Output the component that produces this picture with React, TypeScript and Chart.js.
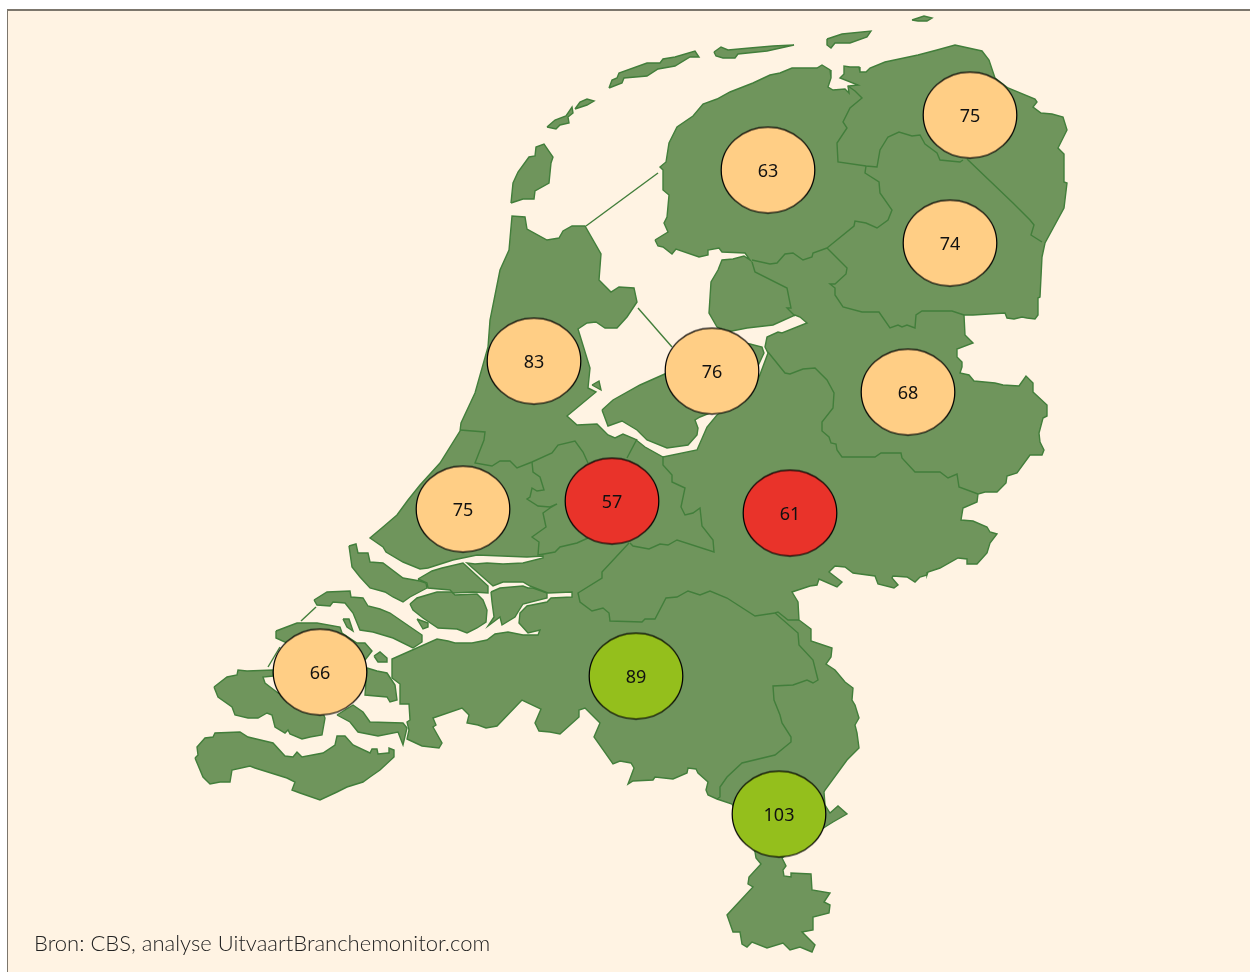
import React, { useEffect, useRef } from "react";
import { Chart, registerables } from "chart.js";

Chart.register(...registerables);

type P = [number, number];

const provinces = ["Groningen", "Friesland", "Drenthe", "Overijssel", "Flevoland", "Noord-Holland", "Zuid-Holland", "Utrecht", "Gelderland", "Noord-Brabant", "Limburg", "Zeeland"];
const values = [75, 63, 74, 68, 76, 83, 75, 57, 61, 89, 103, 66];
const bubbleX = [970, 768, 950, 908, 712, 534, 463, 612, 790, 636, 779, 320];
const bubbleY = [115, 170, 243, 392, 371, 361, 509, 501, 513, 676, 814, 672];
const source = "Bron: CBS, analyse UitvaartBranchemonitor.com";

const mainland: P[] = [
  [655,240],[668,232],[664,223],[667,217],[669,195],[663,190],[663,170],[660,167],[666,162],[669,143],[677,127],[693,116],[703,104],[717,99],[730,92],[753,83],[770,75],[780,73],[792,68],[817,68],[822,65],[830,70],[831,78],[828,87],[833,90],[845,89],[849,93],[848,86],[858,85],[840,78],[844,74],[844,66],[850,67],[859,67],[860,72],[866,72],[870,68],[885,62],[918,55],[937,50],[955,45],[982,51],[989,60],[995,78],[1008,88],[1035,99],[1037,102],[1033,107],[1041,113],[1052,114],[1063,117],[1067,130],[1058,148],[1064,154],[1064,182],[1067,183],[1064,208],[1045,243],[1042,257],[1040,297],[1038,298],[1038,315],[1035,319],[1027,318],[1022,317],[1014,319],[1007,318],[1005,313],[973,315],[964,315],[965,335],[968,338],[973,343],[957,349],[957,357],[962,362],[962,367],[960,373],[969,375],[974,381],[995,383],[1003,385],[1019,386],[1026,376],[1033,383],[1033,392],[1047,405],[1047,416],[1043,418],[1039,433],[1040,442],[1044,450],[1042,455],[1030,455],[1017,473],[1007,476],[1006,483],[997,492],[985,492],[978,494],[977,502],[963,508],[961,520],[973,521],[987,527],[990,532],[997,534],[990,543],[987,553],[977,564],[967,564],[967,559],[958,558],[940,568],[928,572],[927,575],[920,577],[915,582],[907,577],[893,576],[892,578],[898,585],[894,588],[878,584],[875,576],[853,573],[845,567],[835,566],[829,572],[842,582],[837,587],[819,579],[817,585],[810,586],[792,592],[798,602],[799,620],[811,629],[811,641],[832,648],[831,657],[826,664],[835,670],[845,682],[853,688],[852,700],[855,705],[859,718],[855,725],[857,733],[859,748],[847,760],[825,790],[824,792],[825,805],[830,813],[838,806],[847,814],[833,822],[825,827],[782,858],[786,866],[783,870],[784,876],[791,877],[791,873],[811,874],[812,890],[830,893],[824,902],[830,905],[829,913],[813,917],[813,930],[802,932],[815,945],[812,952],[800,947],[790,950],[783,943],[767,948],[752,942],[747,947],[742,944],[740,932],[733,932],[727,915],[753,887],[748,884],[749,877],[761,864],[756,858],[755,852],[732,804],[717,799],[708,795],[706,790],[708,782],[698,773],[696,769],[688,768],[687,773],[673,779],[655,777],[653,780],[633,781],[628,784],[634,768],[631,763],[620,761],[613,764],[594,737],[600,723],[585,708],[579,710],[579,717],[560,734],[550,732],[539,731],[535,723],[541,709],[522,700],[497,726],[486,728],[478,725],[467,723],[469,715],[462,708],[433,718],[436,725],[433,727],[442,743],[439,748],[422,746],[407,739],[409,730],[407,722],[410,720],[409,704],[400,704],[400,684],[392,678],[392,659],[437,639],[448,641],[455,643],[472,643],[487,640],[495,634],[508,632],[513,633],[523,635],[538,635],[540,630],[528,633],[519,623],[520,613],[527,606],[547,602],[551,598],[572,597],[572,592],[548,593],[530,586],[523,582],[503,582],[493,586],[467,563],[475,564],[487,563],[503,564],[523,563],[543,558],[543,556],[527,557],[477,555],[453,560],[428,568],[420,569],[403,562],[386,552],[383,547],[370,538],[383,527],[397,515],[408,500],[420,485],[440,463],[460,431],[461,423],[475,393],[488,347],[490,320],[500,270],[509,250],[512,216],[525,217],[527,229],[547,240],[559,238],[563,231],[572,226],[585,226],[601,254],[599,280],[611,292],[619,287],[634,288],[637,302],[627,317],[617,328],[605,328],[596,322],[587,323],[578,329],[590,368],[588,388],[596,392],[567,416],[577,425],[597,424],[608,435],[615,438],[623,434],[635,439],[645,447],[663,457],[697,450],[707,427],[717,415],[755,388],[768,353],[765,347],[767,337],[778,332],[782,333],[807,323],[800,317],[795,315],[773,325],[747,328],[727,332],[717,327],[709,313],[711,282],[718,270],[722,260],[733,259],[744,256],[750,260],[745,253],[722,252],[719,248],[708,250],[708,255],[699,257],[676,249],[672,254],[663,247],[658,246],[655,240],
];
const texel: P[] = [[511,203],[513,183],[518,172],[529,157],[535,156],[536,147],[544,144],[553,157],[551,163],[549,183],[535,191],[534,199],[523,199],[511,203]];
const vlieland: P[] = [[547,127],[555,120],[566,116],[572,107],[573,113],[568,117],[569,123],[560,125],[556,129],[547,127]];
const vlielandEast: P[] = [[575,109],[580,102],[587,99],[594,101],[587,105],[575,109]];
const terschelling: P[] = [[609,88],[612,80],[617,78],[619,73],[647,63],[660,63],[663,59],[675,57],[695,51],[699,57],[690,57],[675,66],[658,69],[647,76],[624,78],[622,83],[609,88]];
const ameland: P[] = [[714,52],[721,47],[728,50],[750,48],[773,46],[794,45],[767,51],[738,54],[735,58],[723,58],[716,56],[714,52]];
const schiermonnikoog: P[] = [[827,39],[842,34],[871,31],[867,37],[850,43],[835,43],[831,48],[827,45],[827,39]];
const rottum: P[] = [[912,20],[924,16],[932,18],[927,21],[918,21],[912,20]];
const flevoland: P[] = [[602,410],[613,400],[640,385],[667,373],[700,355],[735,342],[750,344],[762,347],[764,353],[757,368],[742,400],[700,417],[695,420],[698,428],[697,435],[688,445],[667,448],[647,440],[637,430],[622,421],[608,426],[602,410]];
const marken: P[] = [[592,385],[599,381],[601,390],[592,385]];
const hoekscheWaard: P[] = [[418,579],[432,571],[442,568],[463,563],[488,586],[488,593],[473,592],[453,593],[450,590],[428,588],[427,583],[418,579]];
const goereeEast: P[] = [[491,592],[500,588],[523,586],[528,588],[533,588],[547,593],[547,598],[523,604],[518,612],[515,617],[502,625],[500,617],[488,626],[494,617],[492,602],[491,592]];
const flakkee: P[] = [[410,604],[417,598],[437,592],[452,592],[455,595],[477,594],[483,600],[487,610],[486,622],[477,628],[467,633],[457,629],[438,628],[423,618],[413,610],[410,604]];
const tinyFlakkee: P[] = [[417,619],[428,623],[428,627],[423,629],[417,619]];
const goeree: P[] = [[349,546],[356,544],[358,553],[368,553],[370,562],[383,563],[403,578],[420,581],[426,583],[427,588],[410,597],[403,602],[393,597],[385,592],[370,588],[360,577],[352,567],[349,546]];
const schouwen: P[] = [[314,600],[327,592],[350,591],[351,597],[363,598],[368,606],[380,609],[390,613],[403,622],[422,635],[422,642],[413,648],[393,638],[373,632],[360,630],[353,613],[345,603],[333,602],[330,606],[317,605],[314,600]];
const tinySchouwen: P[] = [[343,619],[349,619],[353,631],[347,627],[343,619]];
const noordBeveland: P[] = [[276,631],[297,623],[317,623],[340,627],[342,633],[357,643],[365,643],[372,651],[365,660],[320,670],[285,642],[276,638],[276,631]];
const tinyBeveland: P[] = [[374,656],[380,652],[387,658],[387,662],[378,662],[374,656]];
const walcheren: P[] = [[214,687],[227,677],[237,675],[238,670],[247,671],[273,670],[273,676],[263,677],[265,683],[278,693],[323,713],[325,718],[322,735],[310,737],[302,739],[290,734],[288,730],[285,733],[275,727],[272,715],[267,713],[258,718],[248,718],[235,715],[232,707],[218,697],[214,687]];
const bevelandNorth: P[] = [[367,668],[377,671],[387,673],[395,685],[397,700],[390,702],[387,697],[365,695],[367,668]];
const bevelandSouth: P[] = [[337,715],[353,705],[363,712],[370,722],[403,723],[407,728],[403,745],[398,732],[378,736],[358,732],[350,722],[337,715]];
const zeeuwsVlaanderen: P[] = [[195,758],[198,755],[197,747],[205,738],[213,737],[215,733],[240,732],[248,737],[273,743],[285,756],[293,757],[297,752],[302,757],[323,753],[335,745],[337,736],[345,736],[353,745],[370,753],[372,749],[377,749],[378,754],[388,753],[389,748],[394,750],[394,757],[380,770],[370,777],[363,782],[347,787],[337,792],[320,800],[300,793],[292,790],[295,782],[287,778],[255,768],[250,766],[232,770],[230,782],[220,782],[210,784],[203,777],[195,758]];

const landShapes: P[][] = [mainland, texel, vlieland, vlielandEast, terschelling, ameland, schiermonnikoog, rottum, flevoland, marken, hoekscheWaard, goereeEast, flakkee, tinyFlakkee, goeree, schouwen, tinySchouwen, noordBeveland, tinyBeveland, walcheren, bevelandNorth, bevelandSouth, zeeuwsVlaanderen];

const borderGroningen: P[] = [[848,86],[855,91],[862,98],[850,108],[843,122],[847,128],[837,143],[838,162],[866,166],[877,167],[880,150],[888,137],[899,132],[912,136],[920,135],[925,144],[937,153],[940,160],[960,162],[963,160]];
const borderGroningenEast: P[] = [[967,159],[1013,203],[1030,220],[1034,225],[1031,235],[1042,242]];
const borderFrieslandDrenthe: P[] = [[866,166],[865,173],[879,182],[880,193],[892,210],[888,220],[877,228],[866,223],[855,221],[854,226],[827,248]];
const borderFrieslandSouth: P[] = [[827,248],[813,253],[812,257],[803,260],[793,253],[785,254],[777,263],[770,264],[752,260]];
const borderDrentheSouth: P[] = [[827,248],[847,268],[846,274],[835,284],[830,284],[835,288],[835,295],[843,307],[862,312],[879,312],[890,328],[898,325],[902,327],[907,325],[915,328],[916,315],[922,311],[952,311],[964,315]];
const borderPolder: P[] = [[752,262],[755,272],[787,288],[791,308],[787,308],[795,316]];
const borderIjssel: P[] = [[768,352],[785,373],[790,374],[803,369],[815,368],[827,380],[834,393],[833,408],[822,422],[822,431],[829,437],[831,443],[836,444],[837,450],[842,457],[875,457],[881,453],[901,453],[902,458],[915,472],[940,472],[948,478],[957,474],[959,487],[978,494]];
const borderHollands: P[] = [[460,430],[485,432],[484,440],[475,463],[492,466],[500,461],[510,461],[517,468],[532,462],[552,453],[558,445],[575,441],[583,452],[588,463]];
const borderUtrechtWest: P[] = [[532,462],[533,472],[540,477],[544,490],[537,491],[532,488],[530,497],[527,499],[538,506],[550,507],[557,504],[550,508],[543,513],[546,527],[532,537],[539,542],[538,555],[544,554],[555,552],[560,547],[577,543],[588,538]];
const borderUtrechtEast: P[] = [[630,543],[633,546],[649,549],[660,544],[668,545],[677,540],[714,552],[713,540],[702,526],[700,508],[693,513],[685,515],[681,507],[685,488],[672,482],[672,475],[663,465],[663,456]];
const borderUtrechtNorth: P[] = [[637,439],[627,458]];
const borderBrabantNorth: P[] = [[629,543],[602,572],[602,578],[578,593],[580,602],[592,611],[603,608],[609,613],[610,621],[642,622],[645,619],[655,619],[666,598],[677,597],[688,591],[700,595],[710,591],[727,598],[755,616],[775,613]];
const borderLimburg: P[] = [[775,613],[798,633],[799,645],[813,660],[818,680],[813,683],[807,680],[793,685],[773,686],[774,700],[780,715],[782,723],[791,737],[791,742],[775,755],[742,763],[727,777],[720,787],[720,797],[717,799]];
const borderMeuse: P[] = [[775,613],[778,612],[788,620],[799,620]];
const afsluitdijk: P[] = [[586,226],[658,173]];
const houtribdijk: P[] = [[638,308],[672,347]];
const dijkSchouwen: P[] = [[301,621],[316,607]];
const dijkWalcheren: P[] = [[268,667],[280,647]];

const borderLines: P[][] = [borderGroningen, borderGroningenEast, borderFrieslandDrenthe, borderFrieslandSouth, borderDrentheSouth, borderPolder, borderIjssel, borderHollands, borderUtrechtWest, borderUtrechtEast, borderUtrechtNorth, borderBrabantNorth, borderLimburg, borderMeuse, afsluitdijk, houtribdijk, dijkSchouwen, dijkWalcheren];

const LAND = "#6f955c";
const EDGE = "#427e3b";
const PAPER = "#fff3e3";

function colourFor(v: number): string {
  if (v < 62) return "#e9332a";
  if (v < 85) return "#ffce85";
  return "#94bf1c";
}

function ellipseMarker(fill: string): HTMLCanvasElement {
  const c = document.createElement("canvas");
  c.width = 98;
  c.height = 91;
  const g = c.getContext("2d")!;
  g.beginPath();
  g.ellipse(49, 45.5, 46.8, 43, 0, 0, Math.PI * 2);
  g.fillStyle = fill;
  g.fill();
  g.lineWidth = 1.25;
  g.strokeStyle = "#000";
  g.stroke();
  return c;
}

const toPoints = (pts: P[]) => pts.map(([x, y]) => ({ x, y }));

const valueLabels = {
  id: "valueLabels",
  afterDatasetsDraw(chart: any) {
    const meta = chart.getDatasetMeta(0);
    const g = chart.ctx;
    g.save();
    g.font = '18px "Noto Sans"';
    g.fillStyle = "#111";
    g.textAlign = "center";
    g.textBaseline = "middle";
    meta.data.forEach((el: any, i: number) => g.fillText(String(values[i]), el.x, el.y + 2));
    g.restore();
  },
};

export default function App() {
  const ref = useRef<HTMLCanvasElement>(null);
  useEffect(() => {
    const markers = values.map((v) => ellipseMarker(colourFor(v)));
    const chart = new Chart(ref.current!, {
      type: "scatter",
      plugins: [valueLabels],
      data: {
        labels: provinces,
        datasets: [
          {
            label: "Index",
            data: values.map((_, i) => ({ x: bubbleX[i], y: bubbleY[i] })),
            pointStyle: markers as any,
            pointRadius: 47,
            showLine: false,
            clip: false as any,
          },
          ...borderLines.map((pts) => ({
            data: toPoints(pts),
            showLine: true,
            pointRadius: 0,
            borderColor: EDGE,
            borderWidth: 1.4,
            tension: 0,
            fill: false,
          })),
          ...landShapes.map((pts) => ({
            data: toPoints(pts),
            showLine: true,
            pointRadius: 0,
            borderColor: EDGE,
            backgroundColor: LAND,
            borderWidth: 1.4,
            tension: 0,
            fill: "shape" as any,
          })),
        ],
      },
      options: {
        animation: false,
        responsive: false,
        layout: { padding: 0, autoPadding: false },
        events: [],
        plugins: { legend: { display: false }, tooltip: { enabled: false }, title: { display: false } },
        scales: {
          x: { type: "linear", display: false, min: 0, max: 1250 },
          y: { type: "linear", display: false, min: 0, max: 972, reverse: true },
        },
      },
    });
    return () => chart.destroy();
  }, []);

  return (
    <div style={{ position: "absolute", left: 0, top: 0, width: 1250, height: 972, overflow: "hidden", background: "#fff" }}>
      <div style={{ position: "absolute", left: 7, top: 9, width: 1243, height: 963, boxSizing: "border-box", background: PAPER, borderLeft: "1.5px solid #7c766c", borderTop: "2px solid #7c766c" }} />
      <canvas ref={ref} width={1250} height={972} style={{ position: "absolute", left: 0, top: 0, width: 1250, height: 972, display: "block" }} />
      <div style={{ position: "absolute", left: 34, top: 928, fontFamily: '"Lato"', fontWeight: 300, fontSize: 22, lineHeight: "30px", color: "#222", whiteSpace: "nowrap" }}>{source}</div>
    </div>
  );
}
